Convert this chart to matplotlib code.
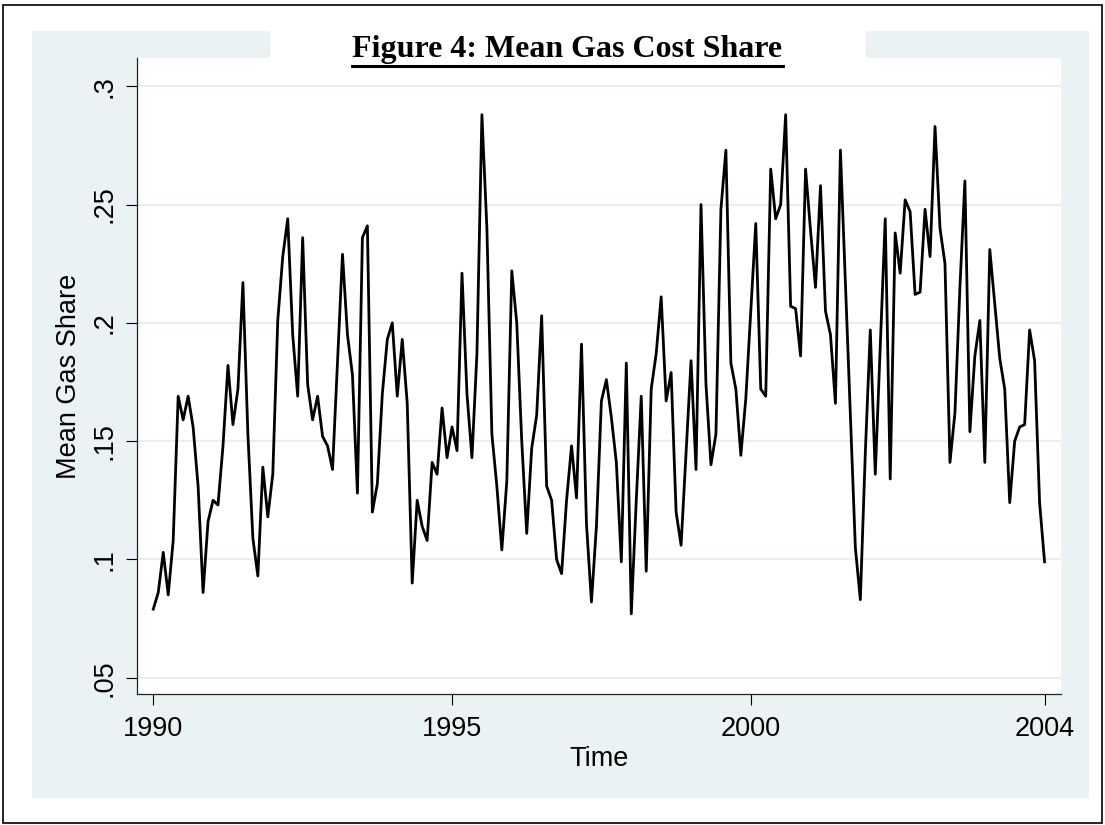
import numpy as np
import matplotlib
matplotlib.use("Agg")
import matplotlib.pyplot as plt
from matplotlib.patches import Rectangle
from matplotlib.lines import Line2D

# monthly mean gas cost share, Jan 1990 onwards
share = [
    0.079, 0.086, 0.103, 0.085, 0.108, 0.169, 0.159, 0.169, 0.156, 0.131,
    0.086, 0.116, 0.125, 0.123, 0.148, 0.182, 0.157, 0.172, 0.217, 0.153,
    0.109, 0.093, 0.139, 0.118, 0.136, 0.201, 0.228, 0.244, 0.195, 0.169,
    0.236, 0.174, 0.159, 0.169, 0.152, 0.148, 0.138, 0.183, 0.229, 0.195,
    0.178, 0.128, 0.236, 0.241, 0.120, 0.132, 0.170, 0.193, 0.200, 0.169,
    0.193, 0.166, 0.090, 0.125, 0.114, 0.108, 0.141, 0.136, 0.164, 0.143,
    0.156, 0.146, 0.221, 0.170, 0.143, 0.187, 0.288, 0.240, 0.153, 0.131,
    0.104, 0.133, 0.222, 0.200, 0.150, 0.111, 0.147, 0.161, 0.203, 0.131,
    0.125, 0.100, 0.094, 0.125, 0.148, 0.126, 0.191, 0.115, 0.082, 0.114,
    0.167, 0.176, 0.160, 0.141, 0.099, 0.183, 0.077, 0.125, 0.169, 0.095,
    0.172, 0.187, 0.211, 0.167, 0.179, 0.120, 0.106, 0.145, 0.184, 0.138,
    0.250, 0.174, 0.140, 0.153, 0.248, 0.273, 0.183, 0.172, 0.144, 0.168,
    0.205, 0.242, 0.172, 0.169, 0.265, 0.244, 0.250, 0.288, 0.207, 0.206,
    0.186, 0.265, 0.239, 0.215, 0.258, 0.205, 0.195, 0.166, 0.273, 0.217,
    0.161, 0.105, 0.083, 0.145, 0.197, 0.136, 0.190, 0.244, 0.134, 0.238,
    0.221, 0.252, 0.247, 0.212, 0.213, 0.248, 0.228, 0.283, 0.240, 0.225,
    0.141, 0.162, 0.215, 0.260, 0.154, 0.186, 0.201, 0.141, 0.231, 0.208,
    0.185, 0.172, 0.124, 0.150, 0.156, 0.157, 0.197, 0.184, 0.124, 0.099,
]
months = np.arange(len(share))

year_ticks = [0, 60, 120, 179]
year_labels = ["1990", "1995", "2000", "2004"]
share_ticks = [0.05, 0.10, 0.15, 0.20, 0.25, 0.30]
share_labels = [".05", ".1", ".15", ".2", ".25", ".3"]

bg = "#EAF2F3"
sans = "Liberation Sans"

fig = plt.figure(figsize=(11.05, 8.25), dpi=100)
fig.patch.set_facecolor("white")

# Stata-style graph region plus the outer frame
fig.patches.append(Rectangle((0.02896, 0.03273), 0.95656, 0.92970,
                             transform=fig.transFigure, facecolor=bg,
                             edgecolor="none", zorder=-2))
fig.patches.append(Rectangle((0.24434, 0.92970), 0.53937, 0.03273,
                             transform=fig.transFigure, facecolor="white",
                             edgecolor="none", zorder=-1))
fig.patches.append(Rectangle((0.00271, 0.00242), 0.99457, 0.99152,
                             transform=fig.transFigure, facecolor="none",
                             edgecolor="black", linewidth=1.2, zorder=10))

ax = fig.add_axes([0.12398, 0.15879, 0.83620, 0.77091])
ax.set_facecolor("white")
ax.plot(months, share, color="black", linewidth=2.0, zorder=3)

ax.set_xlim(-3.27, 182.3)
ax.set_ylim(0.04311, 0.31196)

ax.set_yticks(share_ticks)
ax.set_yticklabels(share_labels, fontsize=19.5, family=sans)
for t in ax.get_yticklabels():
    t.set_rotation(90)
    t.set_va("center")
    t.set_ha("right")
ax.set_xticks(year_ticks)
ax.set_xticklabels(year_labels, fontsize=19.5, family=sans)

ax.grid(axis="y", color="#E6EFF1", linewidth=1.5, zorder=1)
ax.set_axisbelow(True)
ax.tick_params(axis="both", direction="out", length=8, width=0.8,
               color="black", labelcolor="black")
ax.tick_params(axis="x", pad=8)
ax.tick_params(axis="y", pad=6)

for side in ("top", "right"):
    ax.spines[side].set_visible(False)
for side in ("left", "bottom"):
    ax.spines[side].set_linewidth(0.9)
    ax.spines[side].set_color("#222222")

ax.set_xlabel("Time", fontsize=19.5, family=sans, labelpad=3)
ax.set_ylabel("Mean Gas Share", fontsize=19.5, family=sans, labelpad=7)

# bold serif title with an underline beneath it
title = fig.text(0.5136, 0.93091, "Figure 4: Mean Gas Cost Share",
                 ha="center", va="baseline", fontsize=23, fontweight="bold",
                 family="Liberation Serif", zorder=5)
fig.canvas.draw()
bb = title.get_window_extent().transformed(fig.transFigure.inverted())
uy = bb.y0 - 0.002
fig.add_artist(Line2D([bb.x0, bb.x1], [uy, uy], transform=fig.transFigure,
                      color="black", linewidth=2.2, zorder=5))

fig.savefig("out.png", dpi=100, facecolor="white")
